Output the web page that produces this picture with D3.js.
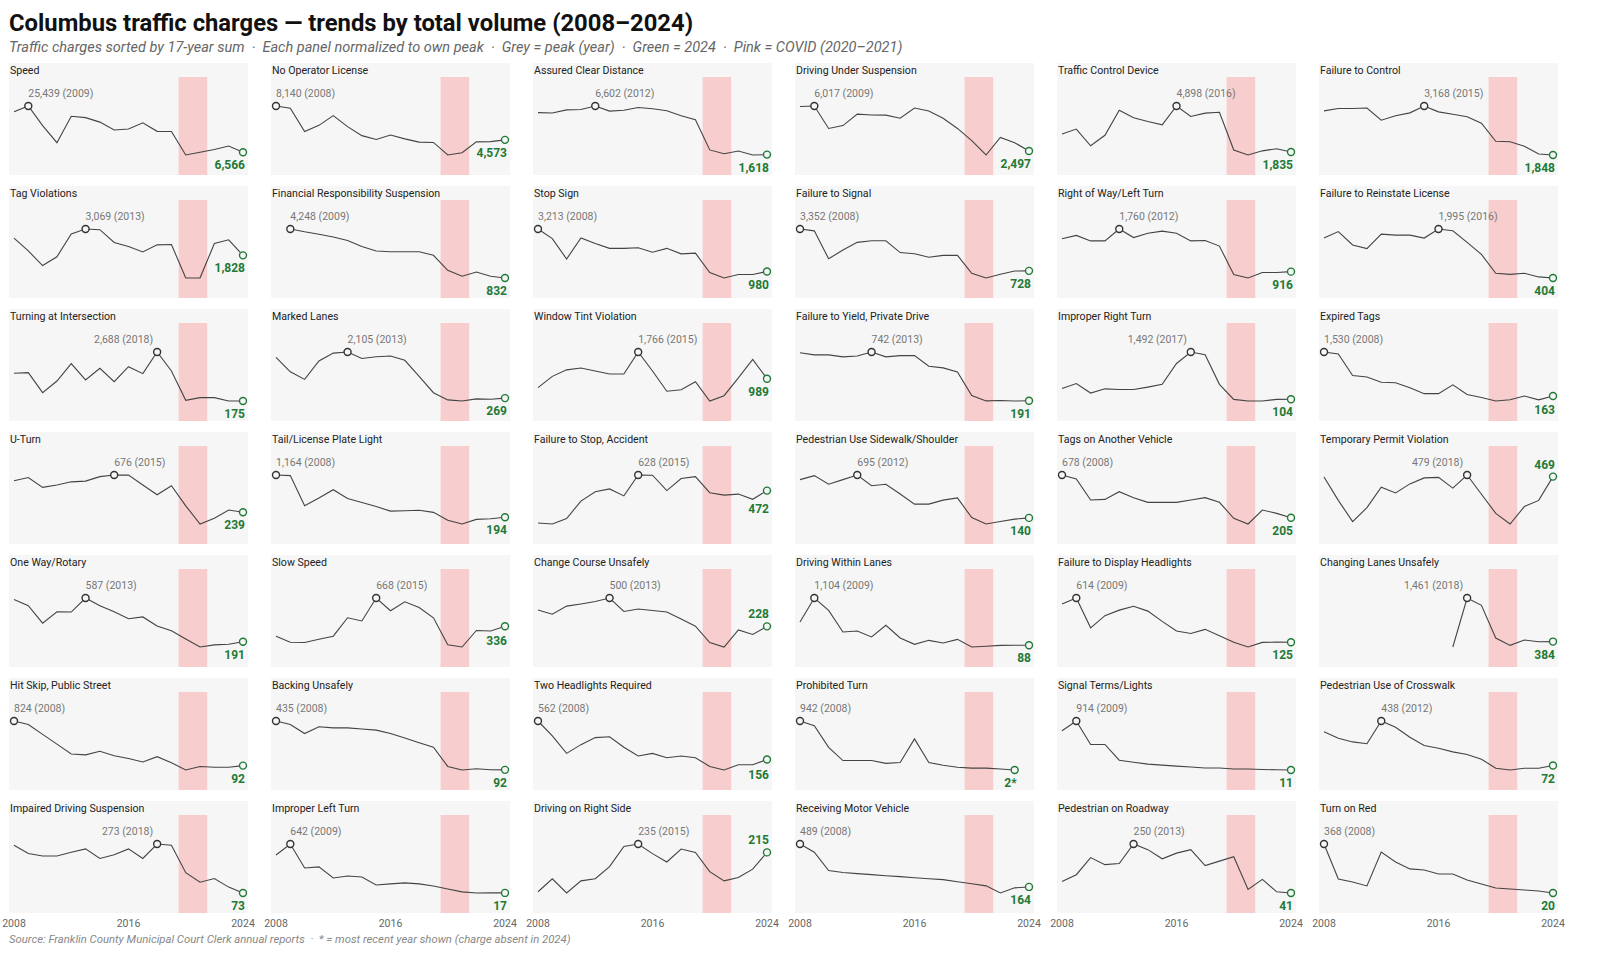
<!DOCTYPE html>
<html>
<head>
<meta charset="utf-8">
<script src="https://cdn.jsdelivr.net/npm/d3@7"></script>
<style>
body { margin: 0; background: #fff; }
text { font-family: Roboto, "Noto Sans", sans-serif; }
</style>
</head>
<body>
<script>
// years shown on every panel
var years = [2008, 2009, 2010, 2011, 2012, 2013, 2014, 2015, 2016, 2017, 2018, 2019, 2020, 2021, 2022, 2023, 2024];

// charge counts per year, null = charge absent that year
var speed = [23060, 25439, 17462, 10484, 21240, 20681, 18861, 15643, 16062, 18581, 15103, 15010, 5446, 6540, 7685, 9085, 6566];
var noOperatorLicense = [8140, 7903, 5456, 6101, 7123, 5967, 5017, 4609, 5084, 4676, 4336, 4300, 2978, 3215, 4360, 4390, 4573];
var assuredClearDistance = [5919, 5885, 6200, 6240, 6602, 6080, 6160, 6441, 6320, 6120, 5597, 5195, 2100, 1700, 1980, 1578, 1618];
var drivingUnderSuspension = [5980, 6017, 4259, 4482, 5376, 5315, 5300, 5058, 5856, 5633, 5058, 4259, 3300, 2179, 3553, 3138, 2497];
var trafficControlDevice = [3031, 3366, 2252, 2949, 4621, 4119, 3868, 3643, 4898, 4201, 4426, 4481, 1975, 1639, 1916, 2056, 1835];
var failureToControl = [3036, 3102, 3102, 3115, 2785, 2904, 2983, 3168, 3010, 2944, 2878, 2706, 2218, 2204, 2086, 1874, 1848];
var tagViolations = [2640, 2035, 1350, 1763, 2831, 3069, 3037, 2432, 2241, 1987, 2322, 2338, 762, 770, 2384, 2559, 1828];
var financialResponsibility = [null, 4248, 4053, 3883, 3688, 3442, 3028, 2711, 2663, 2660, 2663, 2417, 1368, 955, 1245, 955, 832];
var stopSign = [3213, 2706, 1639, 2740, 2452, 2197, 2197, 2230, 1994, 2197, 1909, 1945, 929, 641, 826, 826, 980];
var failureToSignal = [3352, 3235, 1484, 2031, 2516, 2612, 2612, 1874, 1798, 1583, 1700, 1700, 572, 280, 513, 720, 728];
var rightOfWay = [1566, 1634, 1524, 1524, 1760, 1591, 1676, 1718, 1676, 1524, 1532, 1422, 858, 790, 900, 900, 916];
var failureToReinstate = [1701, 1912, 1476, 1359, 1830, 1795, 1795, 1701, 1995, 1936, 1559, 1169, 557, 522, 557, 439, 404];
var turningAtIntersection = [1595, 1628, 602, 1200, 2090, 1253, 1851, 1168, 1937, 1577, 2688, 1713, 210, 346, 346, 178, 175];
var markedLanes = [1890, 1317, 1014, 1746, 2062, 2105, 1848, 1918, 1947, 1775, 1130, 484, 197, 154, 240, 226, 269];
var windowTint = [729, 1057, 1247, 1300, 1213, 1127, 1127, 1766, 1213, 625, 668, 902, 340, 495, 1015, 1549, 989];
var failureToYield = [733, 710, 710, 687, 696, 742, 687, 701, 701, 581, 563, 517, 250, 190, 194, 189, 191];
var improperRightTurn = [421, 565, 288, 411, 390, 390, 462, 543, 1156, 1492, 1410, 543, 102, 54, 56, 101, 104];
var expiredTags = [1530, 1466, 801, 755, 591, 573, 417, 236, 236, 509, 209, 118, 8, 45, 163, 45, 163];
var uTurn = [608, 646, 531, 558, 596, 604, 657, 676, 674, 558, 444, 550, 315, 102, 170, 266, 239];
var tailLight = [1164, 1150, 460, 636, 826, 622, 531, 439, 334, 341, 354, 306, 122, 38, 144, 157, 194];
var failureToStopAccident = [148, 138, 193, 367, 461, 489, 419, 628, 626, 472, 593, 611, 451, 427, 437, 385, 472];
var pedestrianSidewalk = [635, 687, 576, 635, 695, 556, 576, 450, 318, 318, 370, 398, 144, 61, 93, 124, 140];
var tagsOnAnotherVehicle = [678, 633, 401, 408, 493, 427, 375, 375, 375, 401, 427, 375, 198, 135, 290, 253, 205];
var temporaryPermit = [467, 322, 191, 277, 403, 368, 424, 461, 464, 398, 479, 360, 242, 176, 284, 322, 469];
var oneWayRotary = [574, 517, 359, 463, 460, 587, 517, 463, 400, 416, 334, 290, 217, 144, 163, 169, 191];
var slowSpeed = [220, 149, 145, 183, 220, 436, 399, 668, 519, 623, 556, 436, 119, 93, 287, 280, 336];
var changeCourse = [385, 345, 422, 443, 466, 500, 371, 394, 380, 365, 299, 230, 73, 30, 194, 150, 228];
var drivingWithinLanes = [589, 1104, 839, 374, 396, 267, 517, 246, 109, 195, 138, 216, 52, 67, 86, 89, 88];
var displayHeadlights = [547, 614, 284, 419, 480, 522, 469, 355, 249, 221, 267, 196, 124, 72, 123, 126, 125];
var changingLanes = [null, null, null, null, null, null, null, null, null, 250, 1461, 1279, 472, 290, 424, 380, 384];
var hitSkip = [824, 766, 605, 444, 283, 269, 327, 254, 210, 151, 239, 137, 20, 78, 64, 64, 92];
var backingUnsafely = [435, 411, 347, 395, 387, 387, 379, 371, 347, 315, 283, 251, 116, 91, 100, 93, 92];
var twoHeadlights = [562, 405, 221, 313, 387, 396, 285, 193, 221, 175, 193, 175, 83, 46, 101, 101, 156];
var prohibitedTurn = [942, 852, 436, 183, 183, 183, 129, 147, 599, 147, 92, 56, 38, 38, 20, 2, null];
var signalTerms = [733, 914, 481, 481, 192, 155, 119, 101, 83, 65, 47, 47, 29, 29, 20, 15, 11];
var crosswalk = [349, 296, 266, 251, 438, 386, 304, 236, 214, 184, 162, 124, 50, 35, 50, 50, 72];
var impairedSuspension = [268, 234, 224, 224, 239, 253, 214, 229, 253, 214, 273, 268, 156, 117, 132, 97, 73];
var improperLeftTurn = [502, 642, 336, 349, 208, 234, 221, 119, 132, 145, 132, 106, 68, 30, 16, 18, 17];
var drivingRightSide = [121, 152, 118, 147, 152, 181, 229, 235, 212, 192, 223, 215, 169, 147, 155, 175, 215];
var receivingVehicle = [489, 427, 288, 273, 265, 257, 249, 242, 234, 226, 219, 203, 188, 172, 118, 157, 164];
var pedestrianRoadway = [90, 119, 192, 162, 167, 250, 226, 187, 211, 226, 158, 177, 196, 56, 99, 46, 41];
var turnOnRed = [368, 120, 98, 70, 311, 240, 191, 183, 155, 155, 112, 84, 56, 48, 41, 34, 20];

// panel names, in the order of the 17-year sum
var chargeNames = ["Speed", "No Operator License", "Assured Clear Distance", "Driving Under Suspension",
    "Traffic Control Device", "Failure to Control", "Tag Violations", "Financial Responsibility Suspension",
    "Stop Sign", "Failure to Signal", "Right of Way/Left Turn", "Failure to Reinstate License",
    "Turning at Intersection", "Marked Lanes", "Window Tint Violation", "Failure to Yield, Private Drive",
    "Improper Right Turn", "Expired Tags", "U-Turn", "Tail/License Plate Light", "Failure to Stop, Accident",
    "Pedestrian Use Sidewalk/Shoulder", "Tags on Another Vehicle", "Temporary Permit Violation",
    "One Way/Rotary", "Slow Speed", "Change Course Unsafely", "Driving Within Lanes",
    "Failure to Display Headlights", "Changing Lanes Unsafely", "Hit Skip, Public Street", "Backing Unsafely",
    "Two Headlights Required", "Prohibited Turn", "Signal Terms/Lights", "Pedestrian Use of Crosswalk",
    "Impaired Driving Suspension", "Improper Left Turn", "Driving on Right Side", "Receiving Motor Vehicle",
    "Pedestrian on Roadway", "Turn on Red"];
var chargeSeries = [speed, noOperatorLicense, assuredClearDistance, drivingUnderSuspension,
    trafficControlDevice, failureToControl, tagViolations, financialResponsibility,
    stopSign, failureToSignal, rightOfWay, failureToReinstate,
    turningAtIntersection, markedLanes, windowTint, failureToYield,
    improperRightTurn, expiredTags, uTurn, tailLight, failureToStopAccident,
    pedestrianSidewalk, tagsOnAnotherVehicle, temporaryPermit,
    oneWayRotary, slowSpeed, changeCourse, drivingWithinLanes,
    displayHeadlights, changingLanes, hitSkip, backingUnsafely,
    twoHeadlights, prohibitedTurn, signalTerms, crosswalk,
    impairedSuspension, improperLeftTurn, drivingRightSide, receivingVehicle,
    pedestrianRoadway, turnOnRed];

// last-value label goes above the marker for these
var labelAbove = ["Temporary Permit Violation", "Change Course Unsafely", "Driving on Right Side"];
var axisYears = [2008, 2016, 2024];
var covidYears = [2020, 2021];

window.onload = function(){
    var w = 1600, h = 972;
    var panelW = 239, panelH = 112, colStep = 262, rowStep = 123;
    var green = "#1f7a36";
    var fmt = d3.format(",");

    var svg = d3.select("body").append("svg")
        .attr("width", w)
        .attr("height", h)
        .style("background", "#fff");

    svg.append("text")
        .attr("x", 9).attr("y", 31)
        .style("font-size", "23.8px")
        .style("font-weight", "700")
        .style("fill", "#111")
        .text("Columbus traffic charges \u2014 trends by total volume (2008\u20132024)");

    svg.append("text")
        .attr("x", 9).attr("y", 52)
        .attr("xml:space", "preserve")
        .style("white-space", "pre")
        .style("font-size", "14.5px")
        .style("font-style", "italic")
        .style("fill", "#666")
        .text("Traffic charges sorted by 17-year sum  \u00b7  Each panel normalized to own peak  \u00b7  Grey = peak (year)  \u00b7  Green = 2024  \u00b7  Pink = COVID (2020\u20132021)");

    var panels = chargeNames.map(function(name, i){
        return {name: name, values: chargeSeries[i]};
    });

    var x = d3.scaleLinear().domain([years[0], years[years.length - 1]]).range([5, panelW - 5]);
    var nRows = Math.ceil(panels.length / 6);

    panels.forEach(function(p, i){
        var col = i % 6, row = Math.floor(i / 6);
        var g = svg.append("g")
            .attr("transform", "translate(" + (9 + col * colStep) + "," + (63 + row * rowStep) + ")");

        var pts = years.map(function(yr, j){ return {year: yr, v: p.values[j]}; })
            .filter(function(d){ return d.v != null; });

        //each panel scaled to its own range
        var y = d3.scaleLinear()
            .domain(d3.extent(pts, function(d){ return d.v; }))
            .range([92, 43]);

        g.append("rect")
            .attr("width", panelW).attr("height", panelH)
            .style("fill", "#f6f6f6");

        g.append("rect")
            .attr("x", x(covidYears[0] - 0.5))
            .attr("width", x(covidYears[1] + 0.5) - x(covidYears[0] - 0.5))
            .attr("y", 14).attr("height", panelH - 14)
            .style("fill", "#f7cdcd");

        g.append("text")
            .attr("x", 1).attr("y", 11)
            .style("font-size", "10.6px")
            .style("fill", "#222")
            .text(p.name);

        var line = d3.line()
            .x(function(d){ return x(d.year); })
            .y(function(d){ return y(d.v); });

        g.append("path")
            .datum(pts)
            .attr("d", line)
            .style("fill", "none")
            .style("stroke", "#444")
            .style("stroke-width", 1.1);

        //peak marker
        var peak = pts.reduce(function(a, b){ return b.v > a.v ? b : a; });
        var early = peak.year <= 2016;
        g.append("text")
            .attr("x", early ? x(peak.year) : x(peak.year) - 4)
            .attr("y", y(peak.v) - 9)
            .attr("text-anchor", early ? "start" : "end")
            .style("font-size", "10.5px")
            .style("fill", "#777")
            .text(fmt(peak.v) + " (" + peak.year + ")");
        g.append("circle")
            .attr("cx", x(peak.year)).attr("cy", y(peak.v)).attr("r", 3.5)
            .style("fill", "#f6f6f6")
            .style("stroke", "#333")
            .style("stroke-width", 1.4);

        //most recent year marker
        var last = pts[pts.length - 1];
        var prev = pts[pts.length - 2];
        var above = labelAbove.indexOf(p.name) >= 0;
        var below = Math.max(y(last.v) + 17, y(prev.v) + 14);
        g.append("circle")
            .attr("cx", x(last.year)).attr("cy", y(last.v)).attr("r", 3.5)
            .style("fill", "#f6f6f6")
            .style("stroke", green)
            .style("stroke-width", 1.4);
        g.append("text")
            .attr("x", x(last.year) + 2)
            .attr("y", above ? y(last.v) - 8 : below)
            .attr("text-anchor", "end")
            .style("font-size", "12px")
            .style("font-weight", "700")
            .style("fill", green)
            .text(fmt(last.v) + (last.year === 2024 ? "" : "*"));

        //year labels under the bottom row
        if (row === nRows - 1) {
            g.selectAll(".yr")
                .data(axisYears)
                .enter()
                .append("text")
                .attr("class", "yr")
                .attr("x", function(d){ return x(d); })
                .attr("y", panelH + 14)
                .attr("text-anchor", "middle")
                .style("font-size", "10.5px")
                .style("fill", "#666")
                .text(function(d){ return d; });
        }
    });

    svg.append("text")
        .attr("x", 9).attr("y", 943)
        .attr("xml:space", "preserve")
        .style("white-space", "pre")
        .style("font-size", "11.3px")
        .style("font-style", "italic")
        .style("fill", "#888")
        .text("Source: Franklin County Municipal Court Clerk annual reports  \u00b7  * = most recent year shown (charge absent in 2024)");
};
</script>
</body>
</html>
